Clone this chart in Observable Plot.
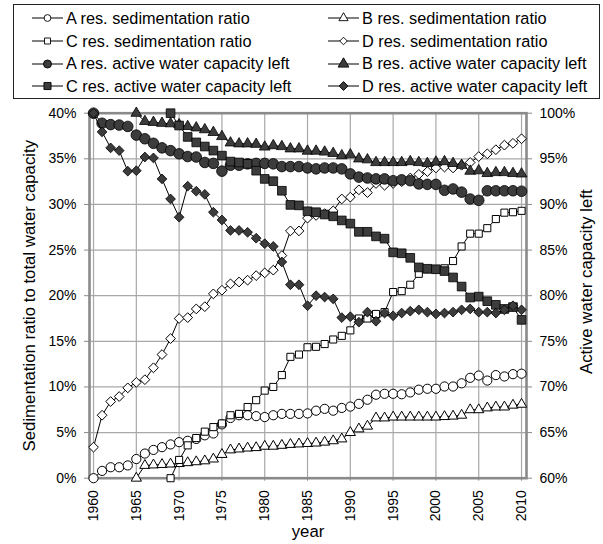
<!DOCTYPE html>
<html><head><meta charset="utf-8">
<script src="https://cdn.jsdelivr.net/npm/d3@7"></script>
<script src="https://cdn.jsdelivr.net/npm/@observablehq/plot@0.6"></script>
<style>
body{margin:0;background:#fff;font-family:"Liberation Sans",Arial,sans-serif;}
#wrap{position:relative;width:603px;height:544px;overflow:hidden;background:#fff}
#legend{position:absolute;left:13px;top:4px;width:585px;height:93px;border:1px solid #222}
.item{position:absolute;display:flex;align-items:center;height:22px;font-size:16.3px;color:#000;white-space:nowrap}
.item svg{margin-right:3px;flex:none}
#chart{position:absolute;left:0;top:100px}
</style></head><body>
<div id="wrap"><div id="legend"></div><div id="chart"></div></div>
<script>
const years = [1960,1961,1962,1963,1964,1965,1966,1967,1968,1969,1970,1971,1972,1973,1974,1975,1976,1977,1978,1979,1980,1981,1982,1983,1984,1985,1986,1987,1988,1989,1990,1991,1992,1993,1994,1995,1996,1997,1998,1999,2000,2001,2002,2003,2004,2005,2006,2007,2008,2009,2010];
const xTicks = [1960,1965,1970,1975,1980,1985,1990,1995,2000,2005,2010];
const yTicksLeft = [0,5,10,15,20,25,30,35,40];
const yTicksRight = [60,65,70,75,80,85,90,95,100];

// sedimentation ratio (%) - left axis
const aSed = [0,0.8,1.2,1.2,1.4,2.1,2.7,3.1,3.4,3.7, 3.95,4.1,4.3,4.7,4.9,5.9,6.6,6.9,6.9,6.8, 6.7,6.9,7.05,7.05,7.05,7.1,7.4,7.6,7.4,7.7, 7.85,8.15,8.6,9.15,9.25,9.25,9.2,9.4,9.7,9.8, 9.8,10.05,10.05,10.4,11.0,11.25,10.7,11.3,11.15,11.4,11.45];
const bSed = [0,1.4,1.45,1.5,1.55, 1.6,1.7,1.8,1.9,2.1,2.6,3.1,3.2,3.3,3.35, 3.5,3.5,3.6,3.7,3.75,3.8,3.85,3.95,4.1,4.3, 5.0,5.4,5.7,6.6,6.6,6.7,6.7,6.7,6.7,6.7, 6.7,6.75,6.8,6.9,7.5,7.5,7.7,7.8,7.8,8.0,8.1];
const cSed = [0, 2.0,3.6,4.4,5.1,5.6,6.0,6.9,7.05,7.8,8.55, 9.6,10.0,11.3,13.3,13.55,14.35,14.4,14.7,15.2,15.6, 16.2,17.5,17.5,18.0,18.2,20.4,20.5,21.2,22.4,22.9, 22.9,23.0,23.8,25.4,26.8,26.8,27.4,28.4,29.1,29.15,29.3];
const dSed = [3.4,6.9,8.4,8.95,9.9,10.5,10.8,12.1,13.55,15.3, 17.5,17.6,18.55,18.8,20.2,20.6,21.3,21.5,21.7,22.2, 22.5,22.8,24.4,27.1,27.1,28.5,28.8,29.0,29.3,30.6, 30.8,31.6,31.3,32.3,32.1,32.3,32.5,32.9,33.3,33.6, 34.0,34.1,34.0,34.3,34.6,35.25,35.55,36.0,36.5,36.7,37.2];
// active water capacity left (%) - right axis
const aCap = [100,98.9,98.75,98.7,98.55,97.6,97.2,96.7,96.2,95.9, 95.55,95.25,95.2,94.6,94.5,93.65,94.3,94.3,94.45,94.5, 94.5,94.45,94.15,94.15,94.15,94.0,93.9,94.0,94.0,93.9, 93.35,93.0,92.9,92.8,92.8,92.6,92.7,92.6,92.25,92.2, 92.2,91.55,91.7,91.35,90.6,90.45,91.5,91.5,91.5,91.5,91.45];
const bCap = [100,99.1,99.0,98.9,98.85, 98.75,98.55,98.4,98.2,97.9,97.45,96.75,96.65,96.65,96.6, 96.3,96.45,96.35,96.1,96.1,95.85,95.85,95.75,95.6,95.35, 95.45,95.0,94.9,94.6,94.6,94.6,94.6,94.7,94.6,94.5, 94.65,94.7,94.5,94.3,93.65,93.7,93.4,93.5,93.5,93.4,93.35];
const cCap = [100, 98.65,97.4,96.8,96.35,95.9,95.35,94.7,94.6,94.45,93.7, 92.8,92.55,91.5,89.95,89.9,89.25,89.15,88.9,88.7,88.25, 87.9,87.0,87.0,86.5,86.25,84.75,84.65,84.15,83.1,82.95, 82.9,82.7,82.0,81.0,79.8,79.9,79.4,79.0,78.55,78.75,77.35];
const dCap = [100,97.95,96.2,95.9,93.65,93.7,95.2,95.1,92.8,90.6, 88.6,92.0,91.45,91.1,89.15,88.3,87.15,87.15,86.95,86.3, 85.7,85.4,83.7,81.2,81.2,78.9,80.0,79.85,79.65,77.6, 77.7,77.1,78.2,77.2,78.1,77.8,78.1,78.3,78.45,78.2, 78.0,78.1,78.2,78.45,78.55,78.2,78.2,78.1,78.45,78.9,78.45];

const seriesNames = ["A res. sedimentation ratio","B res. sedimentation ratio","C res. sedimentation ratio","D res. sedimentation ratio","A res. active water capacity left","B res. active water capacity left","C res. active water capacity left","D res. active water capacity left"];
const seriesValues = [aSed,bSed,cSed,dSed,aCap,bCap,cCap,dCap];
const seriesAxis = ["left","left","left","left","right","right","right","right"];
const seriesSymbol = ["circle","triangle","square","diamond2","circle","triangle","square","diamond2"];
const seriesFilled = [false,false,false,false,true,true,true,true];
const seriesR = [4.6,3.8,4.0,4.4,5.3,4.0,4.9,4.4];
const titleLeft = "Sedimentation ratio to total water capacity";
const titleRight = "Active water capacity left";
const titleX = "year";

const rightOffset = yTicksRight[0] - yTicksLeft[0];
const rows = [];
seriesNames.forEach((name,i) => {
  const vals = seriesValues[i];
  const yrs = years.slice(years.length - vals.length);
  vals.forEach((v,j) => rows.push({series:name, idx:i, year:yrs[j], v, y: seriesAxis[i]==="right" ? v - rightOffset : v}));
});

const FILL = "#3c3c3c";
const marks = [
  Plot.gridY(yTicksLeft, {stroke:"#a8a8a8", strokeOpacity:1, strokeWidth:1.2}),
  Plot.gridX(xTicks, {stroke:"#a8a8a8", strokeOpacity:1, strokeWidth:1.2}),
  Plot.frame({stroke:"#8a8a8a", strokeWidth:2.6}),
  Plot.axisY(yTicksLeft, {anchor:"left", tickFormat:d => d + "%", tickSize:5, tickPadding:8, stroke:"#8a8a8a", label:null, fontSize:14}),
  Plot.axisY(yTicksRight.map(v => v - rightOffset), {anchor:"right", tickFormat:d => (d + rightOffset) + "%", tickSize:5, tickPadding:8, stroke:"#8a8a8a", label:null, fontSize:14}),
  Plot.axisX(xTicks, {anchor:"bottom", tickRotate:-90, tickFormat:d => String(d), tickSize:3, tickPadding:9, stroke:"#8a8a8a", label:null, fontSize:14}),
  Plot.axisY([], {anchor:"left", label:titleLeft, labelAnchor:"center", labelArrow:"none", labelOffset:66, fontSize:16.8, tickSize:0}),
  Plot.text([titleRight], {frameAnchor:"right", rotate:-90, dx:60, dy:-14, fontSize:16.8, textAnchor:"middle", lineAnchor:"middle", fill:"#000"}),
  Plot.axisX([], {anchor:"bottom", label:titleX, labelAnchor:"center", labelArrow:"none", labelOffset:59, fontSize:16.8, tickSize:0})
];
seriesNames.forEach((name,i) => {
  const d = rows.filter(r => r.idx === i);
  marks.push(Plot.line(d, {x:"year", y:"y", stroke:"#000", strokeWidth:1}));
  marks.push(Plot.dot(d, {x:"year", y:"y", symbol:seriesSymbol[i], r:seriesR[i], fill: seriesFilled[i] ? FILL : "#fff", stroke:"#000", strokeWidth: seriesFilled[i] ? 0.8 : 1}));
});

const chart = Plot.plot({
  width:603, height:444,
  marginTop:12.7, marginBottom:66.3, marginLeft:89, marginRight:77,
  x:{domain:[1959.53,2010.58]},
  y:{domain:[0,40]},
  style:{fontFamily:"'Liberation Sans', Arial, sans-serif", fontSize:"14px", color:"#000", background:"transparent", overflow:"visible"},
  marks
});
document.getElementById("chart").appendChild(chart);

// legend
const symMap = {circle:d3.symbolCircle, triangle:d3.symbolTriangle, square:d3.symbolSquare, diamond2:d3.symbolDiamond2};
const legend = document.getElementById("legend");
const colX = [32, 328];
const rowY = [18.3, 41, 63.6, 86.2];
seriesNames.forEach((name,i) => {
  const col = i % 2, row = Math.floor(i / 2);
  const item = document.createElement("div");
  item.className = "item";
  item.style.left = (colX[col] - 14) + "px";
  item.style.top = (rowY[row] - 11 - 5) + "px";
  const svg = d3.create("svg").attr("width", 31).attr("height", 14);
  svg.append("line").attr("x1",0).attr("x2",31).attr("y1",7).attr("y2",7).attr("stroke","#000").attr("stroke-width",1);
  const r = seriesFilled[i] ? 4 : 3.4;
  svg.append("path").attr("transform","translate(15.5,7)")
     .attr("d", d3.symbol(symMap[seriesSymbol[i]], Math.PI * r * r)())
     .attr("fill", seriesFilled[i] ? FILL : "#fff").attr("stroke","#000").attr("stroke-width",0.9);
  item.appendChild(svg.node());
  const span = document.createElement("span");
  span.textContent = name;
  item.appendChild(span);
  legend.appendChild(item);
});
</script>
</body></html>
